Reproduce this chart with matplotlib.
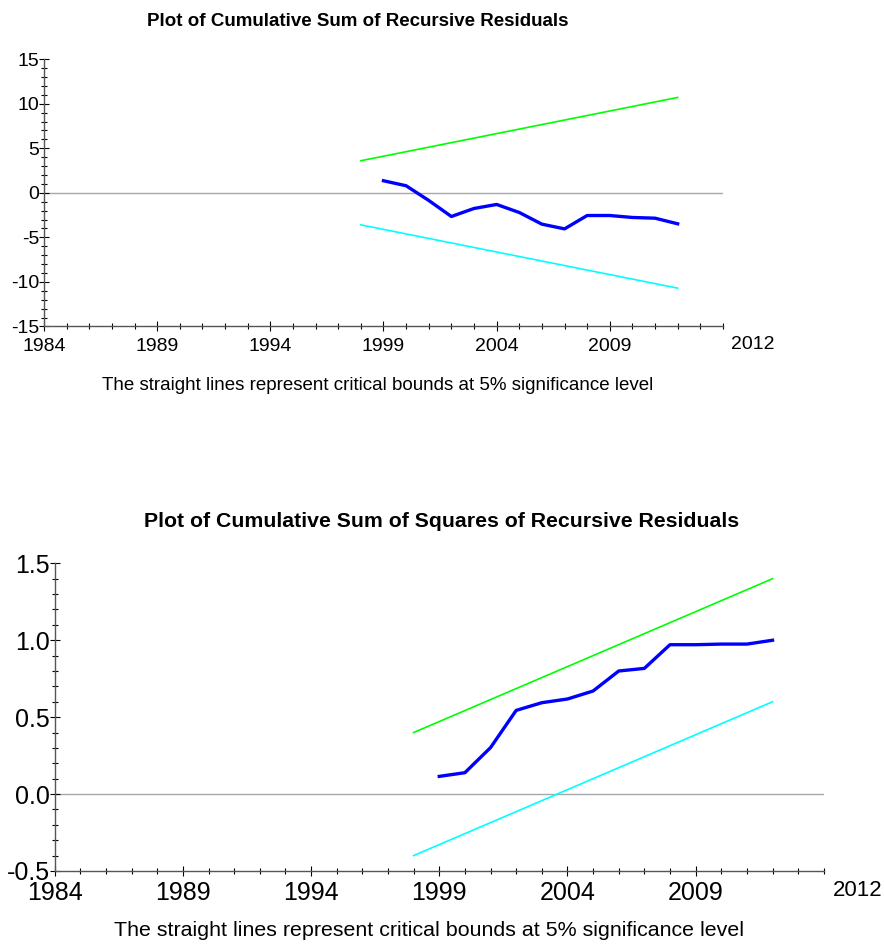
import matplotlib
matplotlib.use("Agg")
import matplotlib.pyplot as plt
from matplotlib.ticker import MultipleLocator, FixedLocator
from matplotlib.transforms import blended_transform_factory

plt.rcParams["font.family"] = ["Liberation Sans Narrow", "Liberation Sans", "DejaVu Sans"]

# data
years = list(range(1999, 2013))
cusum = [1.35, 0.79, -0.86, -2.66, -1.76, -1.31, -2.21, -3.52, -4.05, -2.55, -2.55, -2.77, -2.85, -3.48]
cusum_bound_years = [1998, 2012]
cusum_upper = [3.6, 10.7]
cusum_lower = [-3.6, -10.7]

cusumsq = [0.115, 0.139, 0.302, 0.544, 0.594, 0.618, 0.670, 0.800, 0.817, 0.971, 0.971, 0.975, 0.975, 1.0]
cusumsq_upper = [0.40, 1.40]
cusumsq_lower = [-0.40, 0.60]

x_major = [1984, 1989, 1994, 1999, 2004, 2009]
x_end = 2014
end_label = "2012"

titles = ["Plot of Cumulative Sum of Recursive Residuals",
          "Plot of Cumulative Sum of Squares of Recursive Residuals"]
note = "The straight lines represent critical bounds at 5% significance level"


def style_axes(ax, ylim, ymajor, yminor, fs, fmt, xpad, end_fs, end_y):
    ax.set_xlim(1984, x_end)
    ax.set_ylim(*ylim)
    for side in ("top", "right"):
        ax.spines[side].set_visible(False)
    for side in ("left", "bottom"):
        ax.spines[side].set_color("#555555")
        ax.spines[side].set_linewidth(1.0)
    ax.xaxis.set_major_locator(FixedLocator(x_major))
    ax.xaxis.set_minor_locator(MultipleLocator(1))
    ax.yaxis.set_major_locator(MultipleLocator(ymajor))
    ax.yaxis.set_minor_locator(MultipleLocator(yminor))
    ax.yaxis.set_major_formatter(fmt)
    ax.tick_params(which="both", direction="inout", color="black", width=0.8)
    ax.tick_params(which="major", length=7, labelsize=fs, pad=0)
    ax.tick_params(which="minor", length=5)
    ax.tick_params(axis="x", which="major", pad=xpad)
    trans = blended_transform_factory(ax.transData, ax.transAxes)
    ax.text(x_end + 0.35, end_y, end_label, transform=trans, ha="left", va="top", fontsize=end_fs)


fig = plt.figure(figsize=(8.84, 9.49), dpi=100)

ax1 = fig.add_axes([0.0498, 0.656, 0.768, 0.2817])
ax1.axhline(0, color="#a8a8a8", lw=1.0, zorder=1)
ax1.plot(cusum_bound_years, cusum_upper, color="#00ff00", lw=1.2)
ax1.plot(cusum_bound_years, cusum_lower, color="#00ffff", lw=1.2)
ax1.plot(years, cusum, color="#0000ff", lw=2.4)
style_axes(ax1, (-15, 15), 5, 1, 14, plt.FuncFormatter(lambda v, p: f"{v:g}"), 5, 14, -0.035)
fig.text(0.405, 0.977, titles[0], ha="center", va="center", fontsize=13.5, fontweight="bold")
fig.text(0.427, 0.594, note, ha="center", va="center", fontsize=13.5)

ax2 = fig.add_axes([0.0619, 0.0822, 0.870, 0.3242])
ax2.axhline(0, color="#a8a8a8", lw=1.0, zorder=1)
ax2.plot(cusum_bound_years, cusumsq_upper, color="#00ff00", lw=1.2)
ax2.plot(cusum_bound_years, cusumsq_lower, color="#00ffff", lw=1.2)
ax2.plot(years, cusumsq, color="#0000ff", lw=2.4)
style_axes(ax2, (-0.5, 1.5), 0.5, 0.1, 18, plt.FuncFormatter(lambda v, p: f"{v:.1f}"), 4, 16, -0.03)
fig.text(0.499, 0.451, titles[1], ha="center", va="center", fontsize=15.3, fontweight="bold")
fig.text(0.485, 0.020, note, ha="center", va="center", fontsize=15.4)

fig.savefig("out.png", dpi=100)
